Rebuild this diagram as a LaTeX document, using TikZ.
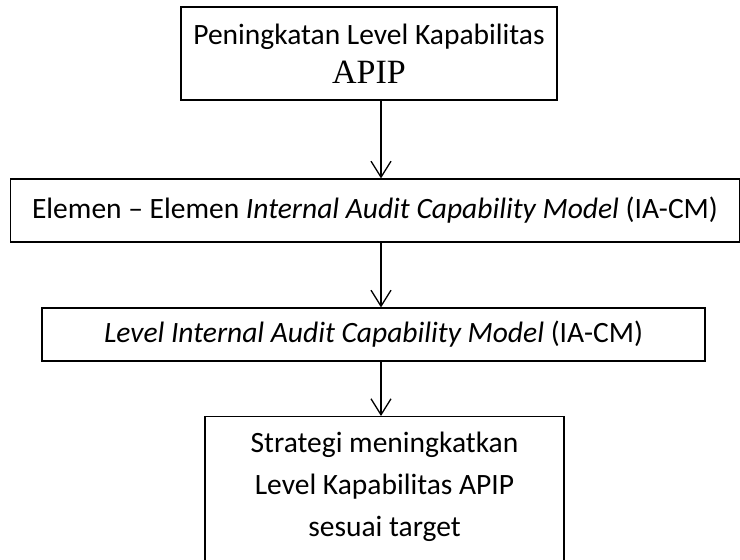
\documentclass[tikz,border=0pt]{standalone}
\usepackage{fontspec}
\setmainfont{Carlito}
\newfontfamily\apipfont{Liberation Serif}
\usepackage{tikz}
\usetikzlibrary{arrows.meta,positioning,calc}

\begin{document}
\begin{tikzpicture}[x=1pt,y=-1pt,
  flowbox/.style={draw,line width=1.2pt,inner sep=0pt,align=center,
    font=\fontsize{29.5}{42}\selectfont},
  flowarrow/.style={line width=1.3pt,
    -{Straight Barb[length=16pt,width=20pt,line width=1.3pt]}}]
\useasboundingbox (0,0) rectangle (740,560);
\clip (0,0) rectangle (740,560);
\node[flowbox,minimum width=376pt,minimum height=93pt] (peningkatan) at (369,53.5)
  {Peningkatan Level Kapabilitas\\[-3pt]{\apipfont\fontsize{34}{34}\selectfont APIP}};
\node[flowbox,minimum width=729pt,minimum height=63pt] (elemen) at (375,210.5)
  {Elemen -- Elemen \textit{Internal Audit Capability Model} (IA-CM)};
\node[flowbox,minimum width=663pt,minimum height=53pt] (level) at (373.5,334.5)
  {\textit{Level Internal Audit Capability Model} (IA-CM)};
\node[flowbox,anchor=north,minimum width=359pt,inner ysep=15pt,text depth=120pt] (strategi) at (384.5,416)
  {Strategi meningkatkan\\Level Kapabilitas APIP\\sesuai target};
% arrows
\coordinate (ax) at (381,0);
\draw[flowarrow] (peningkatan.south -| ax) -- (elemen.north -| ax);
\draw[flowarrow] (elemen.south -| ax) -- (level.north -| ax);
\draw[flowarrow] (level.south -| ax) -- (strategi.north -| ax);
\end{tikzpicture}
\end{document}
